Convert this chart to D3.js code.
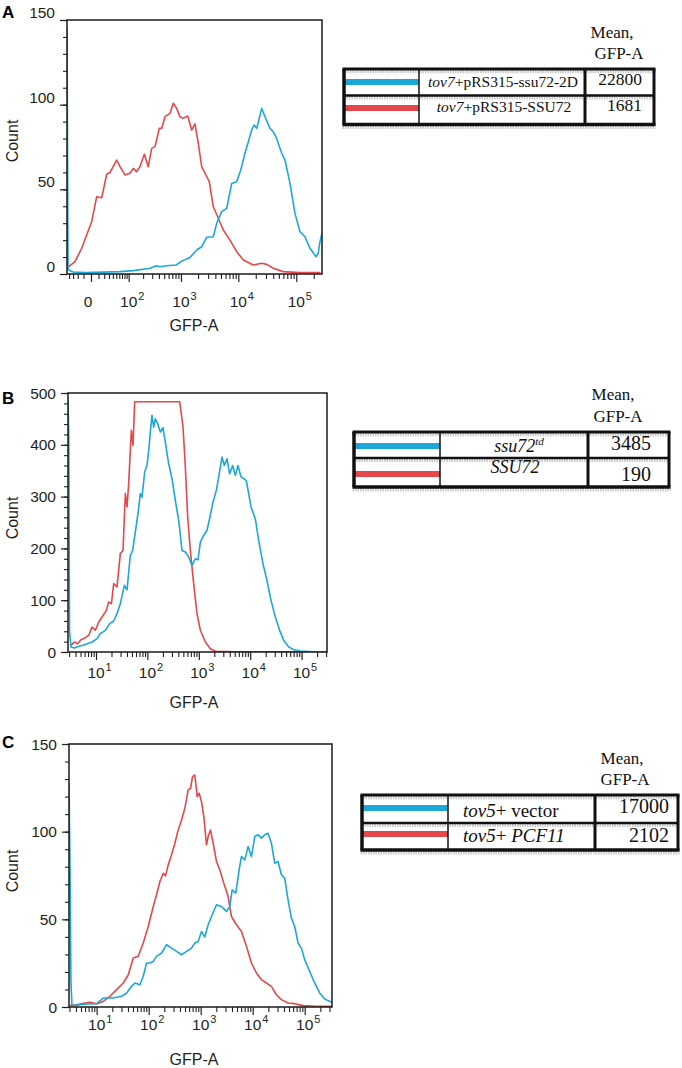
<!DOCTYPE html>
<html><head><meta charset="utf-8">
<script src="https://cdn.jsdelivr.net/npm/d3@7"></script>
<style>body{margin:0;background:#fff} svg{display:block}</style>
</head><body>
<svg id="c" width="682" height="1068"></svg>
<script>
// ---------------- DATA ----------------
// Panel A: [GFP-A, Count]
const aRed = [[-42,4.3],[-37.6,4.9],[-25.6,7.3],[-12.9,15.2],[-5.4,23],[0.8,30.9],[7.3,45.6],[15.3,45],[25,58.9],[32.5,59.9],[51,67.3],[62.5,63.4],[82.5,58.5],[107,59.5],[126,62.4],[148,60.4],[173,63.4],[211,70.7],[252,63.4],[293,74.2],[338,75.2],[406,86],[450,86],[517,92.9],[636,94.9],[729,100.8],[838,97.8],[960,92.9],[1098,91.9],[1315,93.3],[1546,85],[1766,88.6],[2017,77.2],[2313,63.4],[2640,59.5],[3135,54.5],[3682,39.7],[4497,32.9],[5490,26],[7170,20],[9370,13.2],[12200,8.3],[18100,5.3],[25300,6.3],[30900,5.7],[40100,3.4],[59700,1.4],[115900,0.8],[262000,0.8]];
const aBlue = [[-46,145],[-43,2.5],[-30,1.2],[-5.4,0.8],[62.5,1.4],[126,2],[272,3.4],[363,4.9],[418,4.3],[555,4.9],[815,5.3],[1072,7.9],[1442,9.8],[1890,14.2],[2313,16.1],[2826,21.7],[3682,22],[4220,29.9],[5150,36.8],[6290,38.8],[7680,53.5],[9370,54.5],[11000,61.4],[13000,71.3],[14900,78.1],[17000,85],[18700,88],[20800,86],[25300,97.8],[28900,92.9],[35200,86],[40100,84],[44700,81],[56100,71.3],[63900,67.3],[77900,53.5],[95000,35.8],[115900,25],[141000,22],[172000,15.2],[219000,10.2],[239000,12.2],[256000,19],[277000,24]];
// Panel B
const bRed = [[3.27,12.9],[3.79,19.3],[4.39,16],[5.1,23.8],[6.2,27.7],[7.2,32],[8.36,48],[9.7,42],[11.3,58],[13.1,67.6],[15.9,80.4],[17.6,96.5],[19.9,93.3],[22.1,132],[25.6,125.5],[29.7,190],[33.5,196],[37.2,305.7],[40.1,280],[43.2,325],[48.7,428],[52.5,399],[56.5,483],[425,483],[493,434],[547,357],[607,261],[684,196],[794,132],[922,74],[1071,42],[1340,19.3],[1676,6.4],[2100,1.3],[4770,0.3],[312000,0.3]];
const bBlue = [[2.85,486],[2.95,420],[3.05,40],[3.27,9.7],[3.79,7.7],[4.6,11],[5.6,12.9],[6.7,16],[8.36,19.3],[10.5,25.7],[12.1,35.4],[15.2,41.8],[18.5,54.7],[22.1,59.8],[25.6,74],[29.7,93.3],[35.6,128.7],[40.1,120],[46.5,186.6],[51.6,196],[58.2,231.7],[65.6,267],[72.8,305.7],[78.5,299],[88.5,347.5],[98.2,360],[105.9,389],[114,424.7],[122.8,457],[132.4,434],[142.6,450],[158,441],[178.5,424.7],[201,433],[223,405],[259,363.6],[301,334.6],[349,292.8],[406,254],[471,196],[547,193],[635,183.4],[738,167.3],[857,180],[965,178],[1071,212],[1244,225],[1445,235],[1676,264],[1888,289.6],[2193,312],[2436,338],[2826,376.4],[3141,360],[3540,373],[3985,344],[4560,360],[5140,341],[5790,360],[6620,338],[7460,334.6],[8410,331],[9340,305.7],[10370,280],[12590,257],[14600,215.6],[17700,170.5],[21200,138],[25400,99.7],[30800,67.6],[37400,41.8],[44800,22.5],[56000,9.7],[70100,4.5],[94500,1.9],[171800,0.6],[312000,0.6]];
// Panel C
const cRed = [[3.07,0.8],[4.13,1.3],[5.97,2.3],[7.45,2.7],[10,1.9],[13.4,3.2],[18,6.1],[24.2,9.9],[32.5,13.7],[40.6,18.4],[50.6,27.9],[63.1,28.9],[78.7,36.5],[98.2,45.9],[122.5,57.3],[141.9,64],[164.4,71.6],[190.5,76.3],[211,74.8],[237.8,81.1],[275.5,86.8],[319,93.4],[370,101],[428.5,106.7],[496.6,113.4],[575.4,123.8],[638,124.7],[697,131.4],[773,132.3],[857,120],[936,121.9],[1038,117],[1151,108.6],[1295,92.5],[1394,97.2],[1545,101],[1738,93.4],[2014,83],[2334,78.2],[2786,70.6],[3375,63],[3911,51.6],[4876,46.9],[6080,43.1],[7586,34.6],[9460,25.1],[11800,19.4],[14720,15.6],[18360,13.7],[22900,11.8],[28560,7],[35600,4.2],[47900,2.3],[64300,1.9],[92900,0.8],[167500,0.4],[335000,0.4]];
const cBlue = [[2.94,128],[3.1,70],[3.2,15],[3.35,1],[3.56,0.8],[4.79,1.3],[6.43,1.7],[10,1.9],[13.4,5.1],[20.9,5.1],[30.2,6.1],[37.7,8],[47,11.8],[54.5,13.7],[67.9,12.7],[78.7,17.5],[91.2,25.1],[105.7,25.1],[122.5,26],[142,28.9],[177,30.8],[221,35.5],[275.5,33.6],[343.6,31.7],[428.5,29.8],[534.6,31.7],[667,33.6],[773,36.5],[895,37.4],[1038,43.1],[1202,39.9],[1394,46.9],[1614,51.6],[2014,58.3],[2512,57.3],[3133,54.5],[3631,57.3],[4027,66.8],[4732,64.9],[5484,78.2],[6080,85.8],[7047,83.9],[8166,91.5],[9460,85.8],[10965,97.2],[12710,98.2],[14720,96.3],[17060,98.2],[19770,99.1],[22900,93.4],[26550,82],[30760,83],[35600,75.4],[41300,73.5],[47900,61.1],[55460,50.7],[64300,45.9],[74500,36.5],[86300,33.6],[100000,27],[124700,20.3],[155600,13.7],[194100,8],[242000,4.6],[335000,2.7]];

// Ticks
const yTicksA = [0,50,100,150];
const yTicksB = [0,100,200,300,400,500];
const yTicksC = [0,50,100,150];
const xMajorA = [[0,"0",""],[100,"10","2"],[1000,"10","3"],[10000,"10","4"],[100000,"10","5"]];
const xMajorBC = [[10,"10","1"],[100,"10","2"],[1000,"10","3"],[10000,"10","4"],[100000,"10","5"]];
const xMinorA = [-40,-30,-20,-10,10,20,30,40,50,60,70,80,90,200,300,400,500,600,700,800,900,2000,3000,4000,5000,6000,7000,8000,9000,20000,30000,40000,50000,60000,70000,80000,90000,200000];
const xMinorBC = [3,4,5,6,7,8,9,20,30,40,50,60,70,80,90,200,300,400,500,600,700,800,900,2000,3000,4000,5000,6000,7000,8000,9000,20000,30000,40000,50000,60000,70000,80000,90000,200000,300000];

// Legend tables
const legendA = [[["tov7",1],["+pRS315-ssu72-2D",0]], [["tov7",1],["+pRS315-SSU72",0]]];
const meansA = ["22800","1681"];
const legendB = [[["ssu72",1],["td",1,"sup"]], [["SSU72",1]]];
const meansB = ["3485","190"];
const legendC = [[["tov5",1],["+ vector",0]], [["tov5",1],["+ ",0],["PCF11",1]]];
const meansC = ["17000","2102"];
const headerLines = ["Mean,","GFP-A"];

// ---------------- DRAW ----------------
const RED = "#e3484c", BLUE = "#1ba7d8", INK = "#231f20";
const SANS = "'Liberation Sans', Arial, Helvetica, sans-serif";
const SERIF = "'Liberation Serif', 'Times New Roman', Times, serif";
const svg = d3.select("#c");
const defs = svg.append("defs");

function panel(p) {
  const x = p.x, y = p.y;
  const [xl, xr] = x.range();
  const [yb, yt] = y.range();
  const g = svg.append("g").attr("color", INK);
  defs.append("clipPath").attr("id", "clip" + p.letter)
    .append("rect").attr("x", xl).attr("y", yt).attr("width", xr - xl).attr("height", yb - yt);

  const noDomain = s => s.select(".domain").remove();
  // y ticks
  const yMinor = d3.range(0, y.domain()[1] + 0.001, p.yMinorStep);
  g.append("g").attr("transform", `translate(${xl},0)`)
    .call(d3.axisLeft(y).tickValues(yMinor).tickSize(4).tickSizeOuter(0).tickFormat(""))
    .call(noDomain).selectAll("line").attr("stroke-width", 1.1);
  g.append("g").attr("transform", `translate(${xl},0)`)
    .call(d3.axisLeft(y).tickValues(p.yTicks).tickSize(7).tickSizeOuter(0).tickFormat(""))
    .call(noDomain).selectAll("line").attr("stroke-width", 1.2);
  g.selectAll(null).data(p.yTicks).join("text")
    .attr("x", xl - 12).attr("y", d => y(d) + p.yLabDy)
    .attr("text-anchor", "end").attr("font-family", SANS).attr("font-size", 15.5).attr("fill", INK)
    .text(d => d);

  // x ticks
  g.append("g").attr("transform", `translate(0,${yb})`)
    .call(d3.axisBottom(x).tickValues(p.xMinor).tickSize(5).tickSizeOuter(0).tickFormat(""))
    .call(noDomain).selectAll("line").attr("stroke-width", 1.1);
  g.append("g").attr("transform", `translate(0,${yb})`)
    .call(d3.axisBottom(x).tickValues(p.xMajor.map(d => d[0])).tickSize(8).tickSizeOuter(0).tickFormat(""))
    .call(noDomain).selectAll("line").attr("stroke-width", 1.2);
  p.xMajor.forEach(([v, base, ex]) => {
    const cx = x(v) - (ex ? 0 : 3);
    g.append("text").attr("x", cx).attr("y", yb + p.xLabDy)
      .attr("text-anchor", "middle").attr("font-family", SANS).attr("font-size", 15.5).attr("fill", INK).text(base);
    if (ex) g.append("text").attr("x", cx + 9.5).attr("y", yb + p.xLabDy - 7.5)
      .attr("font-family", SANS).attr("font-size", 11).attr("fill", INK).text(ex);
  });

  // titles
  g.append("text").attr("transform", `translate(18,${p.countY}) rotate(-90)`)
    .attr("text-anchor", "middle").attr("font-family", SANS).attr("font-size", 16).attr("fill", INK).text("Count");
  g.append("text").attr("x", 194).attr("y", p.gfpY)
    .attr("text-anchor", "middle").attr("font-family", SANS).attr("font-size", 16).attr("fill", INK).text("GFP-A");
  g.append("text").attr("x", 2).attr("y", p.letterY)
    .attr("font-family", SANS).attr("font-weight", "bold").attr("font-size", 17).attr("fill", "#000").text(p.letter);

  // curves
  const line = d3.line().x(d => x(d[0])).y(d => y(d[1]));
  const cg = g.append("g").attr("clip-path", `url(#clip${p.letter})`);
  cg.append("path").datum(p.red).attr("d", line).attr("fill", "none").attr("stroke", RED).attr("stroke-width", 1.6).attr("stroke-linejoin", "round");
  cg.append("path").datum(p.blue).attr("d", line).attr("fill", "none").attr("stroke", BLUE).attr("stroke-width", 1.6).attr("stroke-linejoin", "round");

  // frame
  g.append("rect").attr("x", xl).attr("y", yt).attr("width", xr - xl).attr("height", yb - yt)
    .attr("fill", "none").attr("stroke", "#1a1a1a").attr("stroke-width", 1.5);
}

panel({letter: "A", letterY: 18,
  x: d3.scaleSymlog().constant(28.9).domain([-46, 277700]).range([67, 322]),
  y: d3.scaleLinear().domain([0, 150]).range([274, 20]),
  yTicks: yTicksA, yMinorStep: 10, yLabDy: -2, xMajor: xMajorA, xMinor: xMinorA, xLabDy: 33,
  countY: 141, gfpY: 331, red: aRed, blue: aBlue});
panel({letter: "B", letterY: 404,
  x: d3.scaleLog().domain([2.85, 312000]).range([68, 327]),
  y: d3.scaleLinear().domain([0, 500]).range([652, 393]),
  yTicks: yTicksB, yMinorStep: 20, yLabDy: 5.5, xMajor: xMajorBC, xMinor: xMinorBC, xLabDy: 26,
  countY: 518, gfpY: 708, red: bRed, blue: bBlue});
panel({letter: "C", letterY: 748,
  x: d3.scaleLog().domain([2.94, 335000]).range([69, 332]),
  y: d3.scaleLinear().domain([0, 150]).range([1007, 744]),
  yTicks: yTicksC, yMinorStep: 10, yLabDy: 5.5, xMajor: xMajorBC, xMinor: xMinorBC, xLabDy: 23,
  countY: 871, gfpY: 1065, red: cRed, blue: cBlue});

// ---------------- TABLES ----------------
function hline(g, x1, x2, yy, w) {
  g.append("line").attr("x1", x1).attr("x2", x2).attr("y1", yy + 2).attr("y2", yy + 2)
    .attr("stroke", "#b5b5b5").attr("stroke-width", w + 1.5).attr("stroke-dasharray", "1.5 1").attr("opacity", 0.7);
  g.append("line").attr("x1", x1).attr("x2", x2).attr("y1", yy).attr("y2", yy)
    .attr("stroke", "#111").attr("stroke-width", w);
}
function vline(g, xx, y1, y2, w) {
  g.append("line").attr("x1", xx).attr("x2", xx).attr("y1", y1).attr("y2", y2)
    .attr("stroke", "#111").attr("stroke-width", w);
}
function table(t) {
  const g = svg.append("g");
  headerLines.forEach((s, i) => {
    g.append("text").attr("x", t.hx[i]).attr("y", t.hy[i]).attr("text-anchor", "middle")
      .attr("font-family", SERIF).attr("font-size", 17).attr("fill", "#111").text(s);
  });
  [BLUE, RED].forEach((col, i) => {
    g.append("line").attr("x1", t.left + 1).attr("x2", t.c1).attr("y1", t.swY[i]).attr("y2", t.swY[i])
      .attr("stroke", col).attr("stroke-width", 6);
  });
  hline(g, t.left - 1.5, t.right + 1.5, t.top, 3);
  hline(g, t.left, t.right, t.mid, 2.5);
  hline(g, t.left - 1.5, t.right + 1.5, t.bottom, 3.5);
  vline(g, t.left, t.top, t.bottom, 3.5);
  vline(g, t.c1, t.top, t.bottom, 1.5);
  vline(g, t.c2, t.top, t.bottom, 3);
  vline(g, t.right, t.top, t.bottom, 3);
  t.labels.forEach((segs, i) => {
    const tx = g.append("text").attr("x", t.tx[i]).attr("y", t.ty[i]).attr("text-anchor", t.anchor)
      .attr("font-family", SERIF).attr("font-size", t.fs).attr("fill", "#111");
    segs.forEach(([s, it, sup]) => {
      const ts = tx.append("tspan").text(s).attr("font-style", it ? "italic" : "normal");
      if (sup) ts.attr("font-size", t.fs * 0.62).attr("dy", -t.fs * 0.38);
    });
  });
  t.means.forEach((m, i) => {
    g.append("text").attr("x", t.nx).attr("y", t.ny[i]).attr("text-anchor", "end")
      .attr("font-family", SERIF).attr("font-size", t.nfs).attr("fill", "#111").text(m);
  });
}

table({left: 344, right: 654, top: 69, mid: 95.5, bottom: 124.5, c1: 419, c2: 585,
  hx: [612, 619], hy: [38, 59], swY: [82, 108],
  labels: legendA, tx: [503, 504], ty: [87, 112], anchor: "middle", fs: 15.5,
  means: meansA, nx: 642, ny: [85, 111], nfs: 17.5});
table({left: 354, right: 669, top: 432, mid: 458, bottom: 487, c1: 440, c2: 588,
  hx: [613, 618], hy: [400, 422], swY: [446, 474],
  labels: legendB, tx: [519, 515], ty: [452, 473], anchor: "middle", fs: 18,
  means: meansB, nx: 651, ny: [450, 481], nfs: 20});
table({left: 362, right: 678, top: 795, mid: 823, bottom: 850, c1: 448, c2: 595,
  hx: [622, 625], hy: [764, 785], swY: [808, 834],
  labels: legendC, tx: [463, 463], ty: [817, 842], anchor: "start", fs: 19,
  means: meansC, nx: 669, ny: [813, 842], nfs: 20});
</script>
</body></html>
